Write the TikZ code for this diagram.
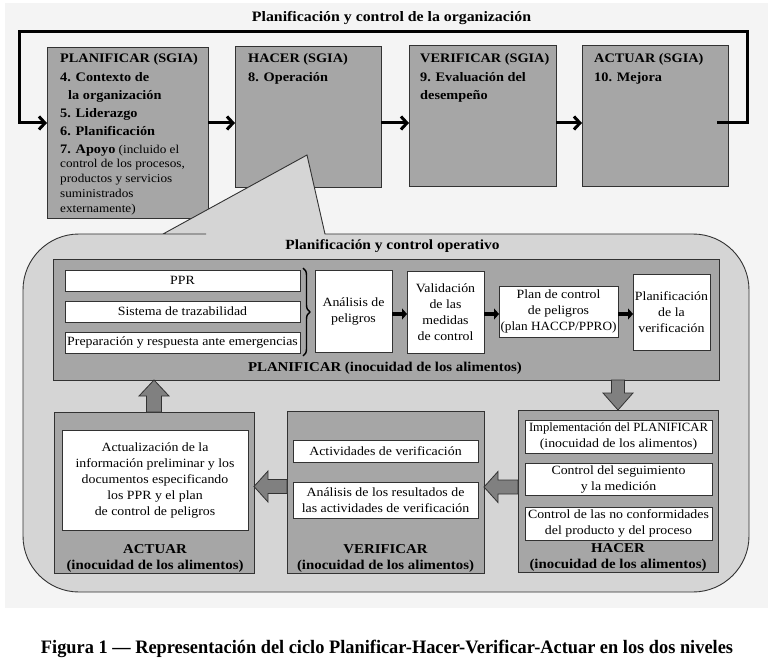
\documentclass[tikz,border=0pt]{standalone}
\usepackage{fontspec}
\setmainfont{Liberation Serif}[FakeStretch=1.1]
\newfontfamily\capfont{Liberation Serif}
\usepackage{graphicx}
\usetikzlibrary{arrows.meta,decorations.pathreplacing,calc}
\definecolor{bgcol}{RGB}{244,244,244}
\definecolor{callcol}{RGB}{213,213,213}
\definecolor{boxcol}{RGB}{166,166,166}
\definecolor{arrcol}{RGB}{128,128,128}
\definecolor{edgecol}{RGB}{50,50,50}
\newcommand{\fitw}[2]{\resizebox{#1}{\height}{#2}}
\begin{document}
\begin{tikzpicture}[x=1pt,y=-1pt,
  sgia/.style={draw=edgecol, line width=0.9pt, fill=boxcol, inner sep=0pt, outer sep=0pt},
  ibox/.style={draw=edgecol, line width=0.9pt, fill=boxcol, inner sep=0pt, outer sep=0pt},
  wbox/.style={draw=edgecol, line width=0.8pt, fill=white, inner sep=0pt, outer sep=0pt, align=center, font=\fontsize{12.6}{16}\selectfont},
  hd/.style={anchor=base west, inner sep=0pt, font=\bfseries\fontsize{13}{16}\selectfont},
  sm/.style={anchor=base west, inner sep=0pt, font=\fontsize{12}{15}\selectfont},
  lbl/.style={anchor=base, inner sep=0pt, font=\bfseries\fontsize{13.5}{16}\selectfont},
  bigarrow/.style={line width=3pt, draw=black, line join=miter, -{Straight Barb[length=6pt,width=13pt]}},
  smallarrow/.style={line width=4.5pt, draw=black, -{Triangle[length=5pt,width=11pt]}},
  blockarrow/.style={fill=arrcol, draw=edgecol, line width=0.8pt, line join=miter}
]
\useasboundingbox (0,0) rectangle (772,658);
\fill[bgcol] (5,3) rectangle (768,608);

% top title
\node[lbl, font=\bfseries\fontsize{14.4}{16}\selectfont] (title) at (391.5,22) {Planificación y control de la organización};

% top boxes
\node[sgia, minimum width=161pt, minimum height=171pt] (planS) at (127.5,132.5) {};
\node[sgia, minimum width=146pt, minimum height=141pt] (hacerS) at (308,116.5) {};
\node[sgia, minimum width=147pt, minimum height=141pt] (verifS) at (482.5,115.5) {};
\node[sgia, minimum width=146pt, minimum height=141pt] (actS) at (655,115.5) {};

\node[hd] (p1) at (60,63) {PLANIFICAR (SGIA)};
\node[hd] (p2) at (60,81.5) {4. Contexto de};
\node[hd] (p3) at (68,99.5) {la organización};
\node[hd] (p4) at (60,117.5) {5. Liderazgo};
\node[hd] (p5) at (60,135.5) {6. Planificación};
\node[sm] (p6) at (60,153.5) {{\bfseries\fontsize{13}{16}\selectfont 7. Apoyo} (incluido el};
\node[sm] (p7) at (60,168) {control de los procesos,};
\node[sm] (p8) at (60,183) {productos y servicios};
\node[sm] (p9) at (60,198) {suministrados};
\node[sm] (p10) at (60,213) {externamente)};

\node[hd] (h1) at (248,63) {HACER (SGIA)};
\node[hd] (h2) at (248,81.5) {8. Operación};
\node[hd] (v1) at (420,63) {VERIFICAR (SGIA)};
\node[hd] (v2) at (420,81.5) {9. Evaluación del};
\node[hd] (v3) at (420,99.5) {desempeño};
\node[hd] (a1) at (594,63) {ACTUAR (SGIA)};
\node[hd] (a2) at (594,81.5) {10. Mejora};

% top arrows
\coordinate (ay) at (0,123);
\coordinate (fb0) at (717,123);
\coordinate (fbA) at (747,32);
\coordinate (fbB) at (19,32);
\draw[bigarrow] (planS.east |- ay) -- (hacerS.west |- ay);
\draw[bigarrow] (hacerS.east |- ay) -- (verifS.west |- ay);
\draw[bigarrow] (verifS.east |- ay) -- (actS.west |- ay);
\draw[bigarrow] (fb0) -| (fbA) -| (fbB |- ay) -- (planS.west |- ay);

% callout
\draw[fill=callcol, draw=edgecol, line width=0.9pt] (163,234) -- (307,155) -- (325,234) -- (400,234) [rounded corners=56pt] -- (749,234) -- (749,592) -- (23,592) -- (23,234) -- (150,234) [sharp corners] -- cycle;
\node[lbl, font=\bfseries\fontsize{14}{16}\selectfont] (optitle) at (392.5,250) {Planificación y control operativo};

% PLANIFICAR (inocuidad)
\node[ibox, minimum width=666pt, minimum height=121pt] (planF) at (386,319.5) {};
\node[wbox, minimum width=235pt, minimum height=21pt] (ppr) at (182.5,280.5) {PPR};
\node[wbox, minimum width=235pt, minimum height=21pt] (traz) at (182.5,311.5) {Sistema de trazabilidad};
\node[wbox, minimum width=235pt, minimum height=21pt] (prep) at (182.5,342.5) {Preparación y respuesta ante emergencias};
\draw[line width=1.4pt, decorate, decoration={brace, amplitude=7pt}] ($(ppr.north east)+(3,-2)$) -- ($(prep.south east)+(3,3)$);
\node[wbox, minimum width=77pt, minimum height=82pt] (anal) at (353.5,311) {Análisis de\\peligros};
\node[wbox, minimum width=77pt, minimum height=82pt] (valid) at (445.5,312) {Validación\\de las\\medidas\\de control};
\node[wbox, minimum width=119pt, minimum height=51pt] (planctl) at (558.5,311.5) {Plan de control\\de peligros\\\fitw{116pt}{(plan HACCP/PPRO)}};
\node[wbox, minimum width=77pt, minimum height=76pt] (planver) at (671.5,312) {Planificación\\de la\\verificación};
\coordinate (ry) at (0,314);
\draw[smallarrow] (anal.east |- ry) -- (valid.west |- ry);
\draw[smallarrow] (valid.east |- ry) -- (planctl.west |- ry);
\draw[smallarrow] (planctl.east |- ry) -- (planver.west |- ry);
\node[lbl] (planL) at (385,371) {PLANIFICAR (inocuidad de los alimentos)};

% bottom row
\node[ibox, minimum width=200pt, minimum height=161pt] (actF) at (154,492.5) {};
\node[ibox, minimum width=197pt, minimum height=162pt] (verF) at (385.5,492) {};
\node[ibox, minimum width=200pt, minimum height=162pt] (hacF) at (618,491) {};

\node[wbox, minimum width=186pt, minimum height=100pt] (actW) at (155,480) {Actualización de la\\información preliminar y los\\documentos especificando\\los PPR y el plan\\de control de peligros};
\node[wbox, minimum width=185pt, minimum height=22pt] (verW1) at (385.5,451) {Actividades de verificación};
\node[wbox, minimum width=185pt, minimum height=36pt] (verW2) at (385.5,500) {Análisis de los resultados de\\las actividades de verificación};
\node[wbox, minimum width=187pt, minimum height=33pt] (hacW1) at (618.5,436.5) {\fitw{179pt}{Implementación del PLANIFICAR}\\(inocuidad de los alimentos)};
\node[wbox, minimum width=187pt, minimum height=32pt] (hacW2) at (618.5,479) {Control del seguimiento\\y la medición};
\node[wbox, minimum width=187pt, minimum height=33pt] (hacW3) at (618.5,523.5) {Control de las no conformidades\\del producto y del proceso};

\node[lbl] (actL1) at (155,553) {ACTUAR};
\node[lbl] (actL2) at (155,569) {(inocuidad de los alimentos)};
\node[lbl] (verL1) at (385.5,553) {VERIFICAR};
\node[lbl] (verL2) at (385.5,569) {(inocuidad de los alimentos)};
\node[lbl] (hacL1) at (618,552) {HACER};
\node[lbl] (hacL2) at (618,568) {(inocuidad de los alimentos)};

% block arrows
\draw[blockarrow, shift={(hacF.north)}] (0,0) -- (15,-17) -- (6.5,-17) -- (6.5,-30) -- (-6.5,-30) -- (-6.5,-17) -- (-15,-17) -- cycle;
\draw[blockarrow, shift={(actF.north |- planF.south)}] (0,0) -- (15,16) -- (7.5,16) -- (7.5,32) -- (-7.5,32) -- (-7.5,16) -- (-15,16) -- cycle;
\draw[blockarrow, shift={($(verF.east)+(0,-5)$)}] (0,0) -- (14,-15.5) -- (14,-7) -- (34,-7) -- (34,7) -- (14,7) -- (14,15.5) -- cycle;
\draw[blockarrow, shift={($(actF.east)+(0,-6)$)}] (0,0) -- (14,-15.5) -- (14,-7) -- (33,-7) -- (33,7) -- (14,7) -- (14,15.5) -- cycle;

% caption
\node[anchor=base, inner sep=0pt] (cap) at (387,653) {\resizebox{692pt}{\height}{\capfont\bfseries\fontsize{19}{21}\selectfont Figura 1 — Representación del ciclo Planificar-Hacer-Verificar-Actuar en los dos niveles}};
\end{tikzpicture}
\end{document}
